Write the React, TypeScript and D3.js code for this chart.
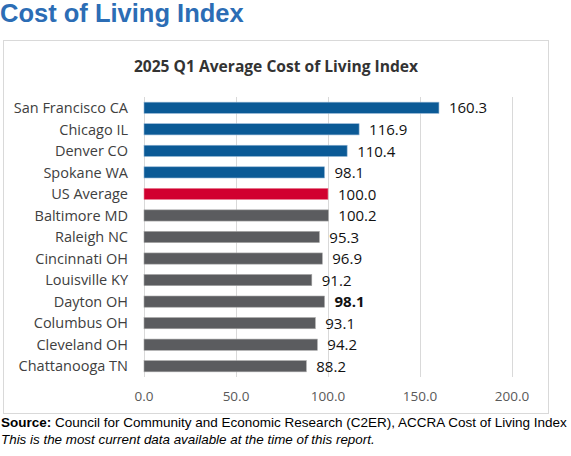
import React, { useEffect, useRef } from 'react';
import * as d3 from 'd3';

const cities = [
  'San Francisco CA', 'Chicago IL', 'Denver CO', 'Spokane WA', 'US Average',
  'Baltimore MD', 'Raleigh NC', 'Cincinnati OH', 'Louisville KY', 'Dayton OH',
  'Columbus OH', 'Cleveland OH', 'Chattanooga TN',
];
const indexValues = [160.3, 116.9, 110.4, 98.1, 100.0, 100.2, 95.3, 96.9, 91.2, 98.1, 93.1, 94.2, 88.2];
const groups = ['peer', 'peer', 'peer', 'peer', 'us', 'other', 'other', 'other', 'other', 'dayton', 'other', 'other', 'other'];
const xTicks = [0, 50, 100, 150, 200];

const width = 571;
const height = 456;
const chartFont = '"Open Sans", "DejaVu Sans", sans-serif';

const colorFor = (g: string) => g === 'peer' ? '#0b5a96' : g === 'us' ? '#d1002f' : '#5b5c5f';

function App() {
  const ref = useRef<SVGSVGElement>(null);

  useEffect(() => {
    if (!ref.current) return;
    const svg = d3.select(ref.current);
    svg.selectAll('*').remove();

    // page heading
    svg.append('text')
      .attr('x', 0)
      .attr('y', 22)
      .attr('font-family', 'Arial, "Liberation Sans", sans-serif')
      .attr('font-weight', 'bold')
      .attr('font-size', '25.5px')
      .attr('fill', '#2c6db5')
      .text('Cost of Living Index');

    // chart frame
    svg.append('rect')
      .attr('x', 3.5)
      .attr('y', 40.5)
      .attr('width', 545)
      .attr('height', 373)
      .attr('fill', '#fff')
      .attr('stroke', '#d9d9d9');

    svg.append('text')
      .attr('x', 276)
      .attr('y', 72)
      .attr('text-anchor', 'middle')
      .attr('font-family', chartFont)
      .attr('font-weight', 'bold')
      .attr('font-size', '15.6px')
      .attr('fill', '#333')
      .text('2025 Q1 Average Cost of Living Index');

    const x = d3.scaleLinear().domain([0, 200]).range([144, 512]);
    const y = d3.scaleBand<string>().domain(cities).range([97, 377]).paddingInner(0.48).paddingOuter(0.24);

    // gridlines
    svg.append('g')
      .selectAll('line')
      .data(xTicks)
      .enter()
      .append('line')
      .attr('x1', d => x(d) + 0.5)
      .attr('x2', d => x(d) + 0.5)
      .attr('y1', 97)
      .attr('y2', 377)
      .attr('stroke', '#d9d9d9');

    // tick labels
    svg.append('g')
      .selectAll('text')
      .data(xTicks)
      .enter()
      .append('text')
      .attr('x', d => x(d))
      .attr('y', 401)
      .attr('text-anchor', 'middle')
      .attr('font-family', chartFont)
      .attr('font-size', '13.5px')
      .attr('fill', '#595959')
      .text(d => d3.format('.1f')(d));

    const rows = cities.map((c, i) => ({ city: c, value: indexValues[i], group: groups[i] }));

    svg.append('g')
      .selectAll('rect')
      .data(rows)
      .enter()
      .append('rect')
      .attr('x', x(0))
      .attr('y', d => y(d.city)!)
      .attr('width', d => x(d.value) - x(0))
      .attr('height', y.bandwidth())
      .attr('fill', d => colorFor(d.group))
      .attr('stroke', d => d.group === 'peer' ? '#8fb3d3' : d.group === 'us' ? '#e88a9c' : '#a6a6a6')
      .attr('stroke-width', 0.6);

    // category labels
    svg.append('g')
      .selectAll('text')
      .data(rows)
      .enter()
      .append('text')
      .attr('x', 128)
      .attr('y', d => y(d.city)! + y.bandwidth() / 2)
      .attr('dy', '0.36em')
      .attr('text-anchor', 'end')
      .attr('font-family', chartFont)
      .attr('font-size', '14.5px')
      .attr('fill', '#404040')
      .text(d => d.city);

    // value labels
    svg.append('g')
      .selectAll('text')
      .data(rows)
      .enter()
      .append('text')
      .attr('x', d => x(d.value) + 10)
      .attr('y', d => y(d.city)! + y.bandwidth() / 2)
      .attr('dy', '0.38em')
      .attr('font-family', chartFont)
      .attr('font-size', '15px')
      .attr('font-weight', d => d.group === 'dayton' ? 'bold' : 'normal')
      .attr('fill', '#111')
      .text(d => d3.format('.1f')(d.value));

    // source notes
    const src = svg.append('text')
      .attr('x', 1)
      .attr('y', 427)
      .attr('font-family', 'Arial, "Liberation Sans", sans-serif')
      .attr('font-size', '13.5px')
      .attr('fill', '#000');
    src.append('tspan').attr('font-weight', 'bold').text('Source:');
    src.append('tspan').text(' Council for Community and Economic Research (C2ER), ACCRA Cost of Living Index');

    svg.append('text')
      .attr('x', 1)
      .attr('y', 444)
      .attr('font-family', 'Arial, "Liberation Sans", sans-serif')
      .attr('font-size', '13.4px')
      .attr('font-style', 'italic')
      .attr('fill', '#000')
      .text('This is the most current data available at the time of this report.');
  }, []);

  return (
    <svg ref={ref} width={width} height={height}
      style={{ position: 'absolute', left: 0, top: 0, background: '#fff' }} />
  );
}

export default App;
